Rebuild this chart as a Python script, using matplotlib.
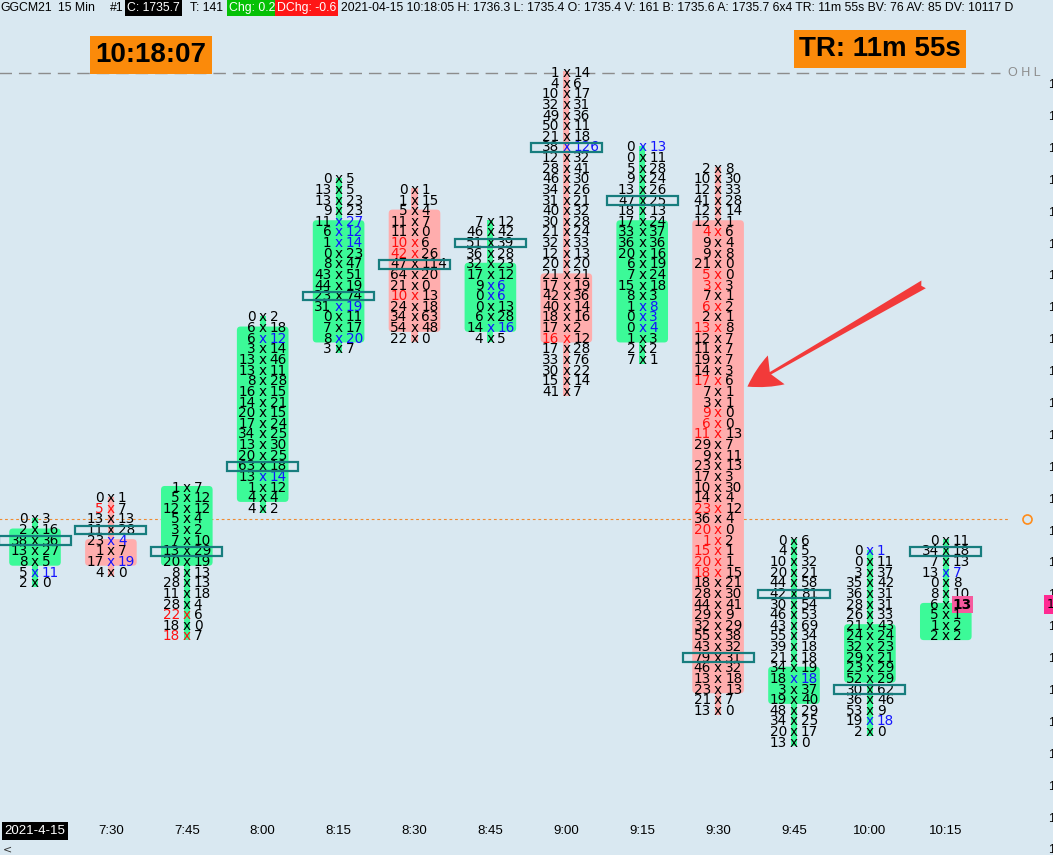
import matplotlib
matplotlib.use("Agg")
import matplotlib.pyplot as plt
from matplotlib.patches import FancyBboxPatch, Rectangle
import matplotlib.transforms as mtransforms

# ---------------- data ----------------
time_labels = ["2021-4-15", "7:30", "7:45", "8:00", "8:15", "8:30", "8:45",
               "9:00", "9:15", "9:30", "9:45", "10:00", "10:15"]
highs = [1736.5, 1736.7, 1736.8, 1738.4, 1739.7, 1739.6, 1739.3,
         1740.7, 1740.0, 1739.8, 1736.3, 1736.2, 1736.3]
opens = [1736.1, 1736.3, 1736.1, 1736.7, 1738.2, 1739.4, 1738.3,
         1738.8, 1738.2, 1739.3, 1734.8, 1735.0, 1735.4]
closes = [1736.4, 1736.1, 1736.8, 1738.3, 1739.3, 1738.3, 1738.9,
          1738.2, 1739.3, 1734.9, 1735.1, 1735.5, 1735.7]

bids_0715 = [0, 2, 38, 13, 8, 5, 2]
asks_0715 = [3, 16, 36, 27, 5, 11, 0]
bids_0730 = [0, 5, 13, 11, 23, 1, 17, 4]
asks_0730 = [1, 7, 13, 28, 4, 7, 19, 0]
bids_0745 = [1, 5, 12, 5, 3, 7, 13, 20, 8, 28, 11, 28, 22, 18, 18]
asks_0745 = [7, 12, 12, 4, 2, 10, 29, 19, 13, 13, 18, 4, 6, 0, 7]
bids_0800 = [0, 6, 6, 3, 13, 13, 8, 16, 14, 20, 17, 34, 13, 20, 63, 13, 1, 4, 4]
asks_0800 = [2, 18, 12, 14, 46, 11, 28, 15, 21, 15, 24, 25, 30, 25, 18, 14, 12, 4, 2]
bids_0815 = [0, 13, 13, 9, 11, 6, 1, 0, 8, 43, 44, 23, 31, 0, 7, 8, 3]
asks_0815 = [5, 5, 23, 23, 27, 12, 14, 23, 47, 51, 19, 74, 19, 11, 17, 20, 7]
bids_0830 = [0, 1, 5, 11, 11, 10, 42, 47, 64, 21, 10, 24, 34, 54, 22]
asks_0830 = [1, 15, 4, 7, 0, 6, 26, 114, 20, 0, 13, 18, 63, 48, 0]
bids_0845 = [7, 46, 51, 36, 32, 17, 9, 0, 0, 6, 14, 4]
asks_0845 = [12, 42, 39, 28, 23, 12, 6, 6, 13, 28, 16, 5]
bids_0900 = [1, 4, 10, 32, 49, 50, 21, 38, 12, 28, 46, 34, 31, 40, 30, 21, 32,
             12, 20, 21, 17, 42, 40, 18, 17, 16, 17, 33, 30, 15, 41]
asks_0900 = [14, 6, 17, 31, 36, 11, 18, 126, 32, 41, 30, 26, 21, 32, 28, 24, 33,
             13, 20, 21, 19, 36, 14, 16, 2, 12, 28, 76, 22, 14, 7]
bids_0915 = [0, 0, 5, 9, 13, 47, 18, 17, 33, 36, 20, 6, 7, 15, 8, 1, 0, 0, 1, 2, 7]
asks_0915 = [13, 11, 28, 24, 26, 25, 13, 24, 37, 36, 16, 19, 24, 18, 3, 8, 3, 4, 3, 2, 1]
bids_0930 = [2, 10, 12, 41, 12, 12, 4, 9, 9, 21, 5, 3, 7, 6, 2, 13, 12, 11, 19, 14,
             17, 7, 3, 9, 6, 11, 29, 9, 23, 17, 10, 14, 23, 36, 20, 1, 15, 20, 18,
             18, 28, 44, 29, 32, 55, 43, 79, 46, 13, 23, 21, 13]
asks_0930 = [8, 30, 33, 28, 14, 1, 6, 4, 8, 0, 0, 3, 1, 2, 1, 8, 7, 7, 7, 3,
             6, 1, 1, 0, 0, 13, 7, 11, 13, 3, 30, 4, 12, 4, 0, 2, 1, 1, 15,
             21, 30, 41, 9, 29, 38, 32, 31, 32, 18, 13, 7, 0]
bids_0945 = [0, 4, 10, 20, 44, 42, 30, 46, 43, 55, 39, 21, 34, 18, 3, 19, 48, 34, 20, 13]
asks_0945 = [6, 5, 32, 21, 58, 81, 54, 53, 69, 34, 18, 18, 19, 18, 37, 40, 29, 25, 17, 0]
bids_1000 = [0, 0, 3, 35, 36, 28, 26, 21, 24, 32, 29, 23, 52, 30, 36, 53, 19, 2]
asks_1000 = [1, 11, 37, 42, 31, 31, 33, 43, 24, 23, 21, 29, 29, 62, 46, 9, 18, 0]
bids_1015 = [0, 34, 7, 13, 0, 8, 6, 5, 1, 2]
asks_1015 = [11, 18, 13, 7, 8, 10, 13, 1, 2, 2]

# imbalance highlights (row index inside each bar)
red_rows = [[], [1], [12, 14], [], [], [5, 6, 10], [], [25], [],
            [6, 10, 11, 13, 15, 20, 23, 24, 25, 32, 34, 35, 36, 37, 38], [], [], []]
blue_rows = [[5], [4, 6], [], [2, 15], [4, 5, 6, 12, 15], [], [6, 7, 10], [7],
             [0, 15, 16, 17], [], [13], [0, 16], [3]]

all_bids = [bids_0715, bids_0730, bids_0745, bids_0800, bids_0815, bids_0830, bids_0845,
            bids_0900, bids_0915, bids_0930, bids_0945, bids_1000, bids_1015]
all_asks = [asks_0715, asks_0730, asks_0745, asks_0800, asks_0815, asks_0830, asks_0845,
            asks_0900, asks_0915, asks_0930, asks_0945, asks_1000, asks_1015]

tick = 0.1
last_price = 1735.7
ref_line = 1736.5
ohl_line = 1740.7

# ---------------- figure ----------------
W, H, DPI = 1053, 855, 100
BG = "#d9e8f1"
GREEN = "#3cfa98"
RED = "#ffadad"
TEAL = "#177d7e"
TXT_RED = "#ff1010"
TXT_BLUE = "#1414ff"

fig = plt.figure(figsize=(W / DPI, H / DPI), dpi=DPI, facecolor=BG)
ax_w = 1045
ax = fig.add_axes([0, 0, ax_w / W, 1])
ax.set_facecolor(BG)
xpx0, xstep = 35.0, 75.9
ypx0, ystep = 73.0, 106.3  # px per 1.0 price
ax.set_xlim(-xpx0 / xstep, (ax_w - xpx0) / xstep)
ax.set_ylim(ohl_line - (H - ypx0) / ystep, ohl_line + ypx0 / ystep)
for s in ax.spines.values():
    s.set_visible(False)
ax.set_xticks([])

# right price axis (mostly cut off by the figure edge)
yt = [round(ohl_line - k * 0.3 - 0.4, 1) for k in range(-1, 24)]
ax.yaxis.tick_right()
ax.set_yticks(yt)
ax.set_yticklabels([f"{v:.1f}" for v in yt], fontsize=9, family="Liberation Sans")
ax.tick_params(axis="y", length=0, pad=2)

FS = 9.8
OFF = 7.0
pt = 72.0 / DPI
aspect = (xstep / ystep)

for i in range(len(highs)):
    bids, asks = all_bids[i], all_asks[i]
    n = len(bids)
    hi = highs[i]
    lo = hi - (n - 1) * tick
    up = closes[i] >= opens[i]
    col = GREEN if up else RED
    # wick
    ax.add_patch(Rectangle((i - 0.04, lo - 0.035), 0.08, hi - lo + 0.05,
                           facecolor=col, edgecolor="none", zorder=1))
    # body
    btop = max(opens[i], closes[i]) + 0.015
    bbot = min(opens[i], closes[i]) - 0.035
    ax.add_patch(FancyBboxPatch((i - 0.34, bbot), 0.68, btop - bbot,
                                boxstyle="round,pad=0,rounding_size=0.05",
                                mutation_aspect=aspect,
                                facecolor=col, edgecolor="none", zorder=2))
    # point of control
    tot = [b + a for b, a in zip(bids, asks)]
    poc = tot.index(max(tot))
    pp = hi - poc * tick
    ax.add_patch(Rectangle((i - 0.468, pp - 0.04), 0.936, 0.08,
                           facecolor="none", edgecolor=TEAL, lw=1.6, zorder=5))
    for j in range(n):
        p = hi - j * tick
        cb = ck = ca = "black"
        if j in red_rows[i]:
            cb = ck = TXT_RED
        if j in blue_rows[i]:
            ca = ck = TXT_BLUE
        ax.annotate(str(bids[j]), (i, p), xytext=(-OFF * pt, 0), textcoords="offset points",
                    ha="right", va="center", fontsize=FS, color=cb, zorder=4)
        ax.annotate("x", (i, p), xytext=(0, 0), textcoords="offset points",
                    ha="center", va="center", fontsize=FS, color=ck, zorder=4)
        kw = {}
        if i == len(highs) - 1 and abs(p - last_price) < 1e-6:
            kw = dict(fontweight="bold",
                      bbox=dict(boxstyle="square,pad=0.08", fc="#f65a9e", ec="none"))
        ax.annotate(str(asks[j]), (i, p), xytext=(OFF * pt, 0), textcoords="offset points",
                    ha="left", va="center", fontsize=FS, color=ca, zorder=4, **kw)

# horizontal reference lines
ax.plot([-0.5, (1000 - xpx0) / xstep], [ohl_line, ohl_line], color="#8c8c8c",
        lw=1, dashes=(9, 5), zorder=0)
ax.text((1008 - xpx0) / xstep, ohl_line, "O H L", color="#8c8c8c", fontsize=9,
        va="center", ha="left", family="Liberation Sans")
ax.plot([-0.5, (1010 - xpx0) / xstep], [ref_line, ref_line], color="#f08a30",
        lw=0.8, dashes=(2.5, 2.5), zorder=0)
ax.plot([(1027 - xpx0) / xstep], [ref_line], marker="o", ms=6.5, mfc="none",
        mec="#ff8c1a", mew=1.2)

# current price marker on the axis
ax.text(1.002, last_price, "1735.7", transform=mtransforms.blended_transform_factory(ax.transAxes, ax.transData),
        fontsize=9, va="center", ha="left", color="black", clip_on=False,
        bbox=dict(boxstyle="square,pad=0.25", fc="#ff2a92", ec="none"))

# time labels
xt = ax.get_xaxis_transform()
for i, lab in enumerate(time_labels):
    if i == 0:
        ax.text(i, 1 - 831 / H, lab, transform=xt, ha="center", va="center", fontsize=9.5,
                color="white", family="Liberation Sans",
                bbox=dict(boxstyle="square,pad=0.2", fc="black", ec="none"))
    else:
        ax.text(i, 1 - 831 / H, lab, transform=xt, ha="center", va="center", fontsize=9.5,
                color="black", family="Liberation Sans")
fig.text(3 / W, 1 - 849 / H, "<", fontsize=8, va="center", ha="left", color="#333333")

# red arrow annotation
ax.annotate("", xy=((745 - xpx0) / xstep, ohl_line - (388 - ypx0) / ystep),
            xytext=((926 - xpx0) / xstep, ohl_line - (283 - ypx0) / ystep),
            arrowprops=dict(arrowstyle="fancy,head_length=0.6,head_width=0.6,tail_width=0.16",
                            mutation_scale=40, color="#f23a3a", lw=0), zorder=6)

# clock boxes
fig.text(151 / W, 1 - 55 / H, "10:18:07", fontsize=20, fontweight="bold", ha="center",
         va="center", family="Liberation Sans",
         bbox=dict(boxstyle="square,pad=0.2", fc="#fb8a0a", ec="none"))
fig.text(880 / W, 1 - 49 / H, "TR: 11m 55s", fontsize=20, fontweight="bold", ha="center",
         va="center", family="Liberation Sans",
         bbox=dict(boxstyle="square,pad=0.2", fc="#fb8a0a", ec="none"))

# header line
hy = 1 - 8 / H
hk = dict(fontsize=8.8, va="center", ha="left", family="Liberation Sans")
fig.text(0, hy, "GGCM21", **hk)
fig.text(58 / W, hy, "15 Min", **hk)
fig.text(110 / W, hy, "#1", **hk)
fig.text(127 / W, hy, "C: 1735.7", color="white",
         bbox=dict(boxstyle="square,pad=0.15", fc="black", ec="none"), **hk)
fig.text(190 / W, hy, "T: 141", **hk)
fig.text(229 / W, hy, "Chg: 0.2", color="white",
         bbox=dict(boxstyle="square,pad=0.15", fc="#06c106", ec="none"), **hk)
fig.text(277 / W, hy, "DChg: -0.6", color="white",
         bbox=dict(boxstyle="square,pad=0.15", fc="#ff1616", ec="none"), **hk)
fig.text(341 / W, hy, "2021-04-15 10:18:05 H: 1736.3 L: 1735.4 O: 1735.4 V: 161 B: 1735.6 "
         "A: 1735.7 6x4 TR: 11m 55s BV: 76 AV: 85 DV: 10117 D", **hk)

fig.savefig("out.png", dpi=DPI, facecolor=BG)
